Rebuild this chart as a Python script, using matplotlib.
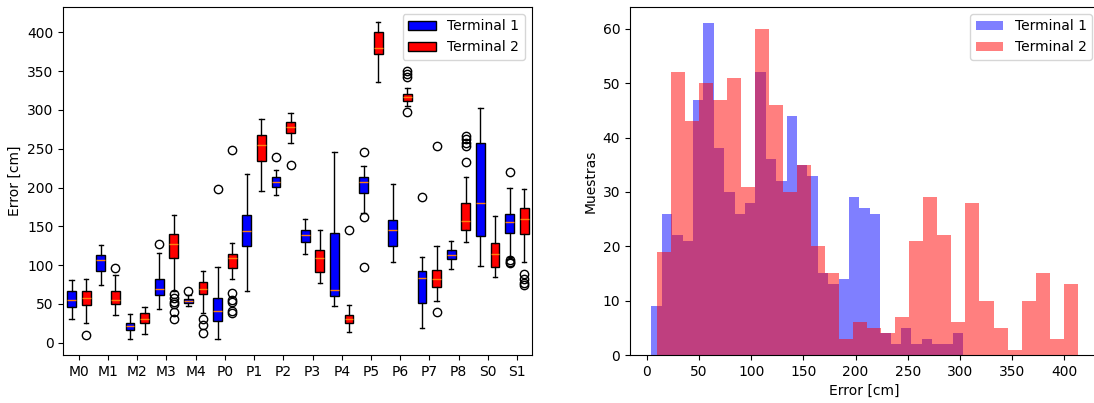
import matplotlib
matplotlib.use('Agg')
import matplotlib.pyplot as plt
import numpy as np

labels = ['M0', 'M1', 'M2', 'M3', 'M4', 'P0', 'P1', 'P2',
          'P3', 'P4', 'P5', 'P6', 'P7', 'P8', 'S0', 'S1']

# Terminal 1 boxplot stats
t1_q1 = [46, 92, 16.3, 61.4, 51.5, 28.4, 124.6, 201, 130, 60.6, 193, 125, 50.7, 107.4, 138, 142]
t1_med = [55, 106, 21.5, 68.7, 54, 41, 144, 207.5, 138.8, 68, 207.5, 145, 83, 113, 180.4, 155]
t1_q3 = [66.6, 113, 25.8, 82, 56.5, 58, 164.6, 214, 145, 141, 214, 158, 92.8, 119.4, 257, 166]
t1_lo = [30, 74, 4.3, 43.4, 47, 4.3, 66.6, 191, 114.3, 47.7, 166.7, 104.4, 19.3, 94.5, 99.2, 110]
t1_hi = [80.8, 126, 36.5, 115, 61, 98, 217.8, 222.5, 159, 246, 228, 204, 110.8, 131, 303, 200]
t1_fliers = [[], [], [], [126.7], [67], [198.5], [], [240], [], [],
             [246, 161.5, 98], [], [188], [], [], [219.5, 107, 104.5, 102.5]]

# Terminal 2 boxplot stats
t2_q1 = [48.5, 49.4, 25.8, 109.6, 62.3, 95.8, 234.6, 269.8, 91.5, 25, 372, 312, 72.2, 145.2, 98, 139.6]
t2_med = [58, 55, 30.5, 126.7, 68.7, 109.6, 254.8, 277.5, 108.7, 30.5, 379.4, 317, 81.6, 157, 114.3, 159.4]
t2_q3 = [66.6, 66, 37.8, 140, 77.7, 113.9, 267.7, 284, 120, 35.7, 400.9, 321, 93.7, 180.4, 128, 173]
t2_lo = [25.8, 35.7, 10.7, 67, 37.8, 81.6, 196, 257.8, 76.5, 13.3, 336.4, 305, 53.7, 129.3, 85, 103.5]
t2_hi = [81.6, 86.8, 46.4, 164.6, 92.8, 129, 289, 296.5, 145, 48.5, 413, 329, 124.6, 213, 163, 197.6]
t2_fliers = [[9.5], [96], [], [62.7, 57, 52.8, 50, 40, 30.5], [30, 22.8, 12],
             [63.6, 55, 53, 41, 37.8, 248], [], [229], [], [145], [],
             [350, 346, 343, 297.7], [254, 39], [266, 262, 257.8, 253.5, 232.4], [],
             [88, 81.6, 77.3, 74.3]]

# histogram counts, 30 bins each
t1_range = (4.3, 303.5)
t1_counts = [9, 26, 22, 21, 47, 61, 38, 30, 26, 28, 52, 36, 32, 44, 35,
             33, 15, 13, 14, 29, 27, 26, 4, 2, 5, 2, 3, 2, 2, 4]
t2_range = (9.5, 413)
t2_counts = [19, 52, 43, 50, 47, 51, 31, 60, 46, 30, 35, 20, 15, 3, 6,
             5, 4, 7, 21, 29, 22, 6, 28, 10, 5, 1, 10, 15, 3, 13]


def make_stats(q1, med, q3, lo, hi, fl):
    out = []
    for i in range(len(q1)):
        out.append(dict(q1=q1[i], med=med[i], q3=q3[i], whislo=lo[i],
                        whishi=hi[i], fliers=fl[i]))
    return out


fig = plt.figure(figsize=(10.94, 4.03), dpi=100)
ax1 = fig.add_axes([0.0579, 0.119, 0.428, 0.864])
# right panel runs slightly past the figure edge (reference is cropped)
ax2 = fig.add_axes([0.5759, 0.119, 0.4287, 0.864])

pos = np.arange(1, len(labels) + 1)
bp1 = ax1.bxp(make_stats(t1_q1, t1_med, t1_q3, t1_lo, t1_hi, t1_fliers),
              positions=pos - 0.25, widths=0.3, patch_artist=True, manage_ticks=False)
bp2 = ax1.bxp(make_stats(t2_q1, t2_med, t2_q3, t2_lo, t2_hi, t2_fliers),
              positions=pos + 0.25, widths=0.3, patch_artist=True, manage_ticks=False)
for b in bp1['boxes']:
    b.set_facecolor('blue')
for b in bp2['boxes']:
    b.set_facecolor('red')
ax1.set_xticks(pos)
ax1.set_xticklabels(labels)
ax1.set_xlim(0.47, 16.5)
ax1.set_ylim(-16, 433)
ax1.set_ylabel('Error [cm]')
ax1.legend([bp1['boxes'][0], bp2['boxes'][0]], ['Terminal 1', 'Terminal 2'], loc='upper right')

e1 = np.linspace(t1_range[0], t1_range[1], len(t1_counts) + 1)
e2 = np.linspace(t2_range[0], t2_range[1], len(t2_counts) + 1)
ax2.hist(e1[:-1], bins=e1, weights=t1_counts, color='blue', alpha=0.5, label='Terminal 1')
ax2.hist(e2[:-1], bins=e2, weights=t2_counts, color='red', alpha=0.5, label='Terminal 2')
ax2.set_xlabel('Error [cm]')
ax2.set_ylabel('Muestras')
ax2.legend(loc='upper right')

fig.savefig('out.png')
